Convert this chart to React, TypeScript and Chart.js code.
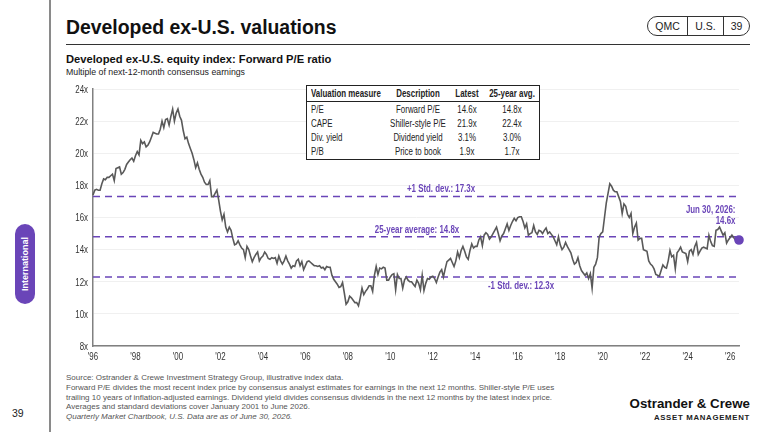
import React, { useEffect, useRef } from "react";
import { Chart, registerables } from "chart.js";

Chart.register(...registerables);

const SANS = '"Liberation Sans", Arial, sans-serif';
const PURPLE = "#6a45b8";
const NARROW = 0.79; // no narrow face installed, so text gets squeezed

const startYear = 1996;

// monthly forward P/E, Jan 1996 to Jun 2026
const forwardPE = [
  17.4, 17.7, 17.75, 17.7, 17.7, 18.1, 18.4, 18.35, 18.5, 18.5, 18.6, 18.7,
  18.3, 19.05, 19.1, 19.15, 18.7, 18.8, 19.0, 19.3, 19.45, 19.6, 19.7, 19.5,
  19.85, 20.1, 19.9, 20.8, 20.6, 20.7, 20.4, 20.5, 20.7, 21.0, 21.3, 21.25,
  21.2, 21.2, 21.5, 22.0, 21.6, 22.1, 22.15, 21.75, 22.3, 22.75, 22.0, 22.5,
  22.75, 22.3, 22.05, 21.4, 20.9, 21.0, 20.6, 20.3, 20.0, 19.6, 19.1, 19.4,
  19.0, 18.7, 18.5, 18.2, 18.05, 18.05, 18.3, 17.3, 17.3, 17.5, 17.7, 17.1,
  16.4, 15.85, 16.2, 15.4, 15.1, 15.4, 15.2, 14.7, 14.3, 14.35, 14.55, 14.3,
  14.1, 14.0, 13.5, 14.2, 14.0, 13.6, 13.25, 13.5, 13.7, 13.85, 13.3, 13.5,
  13.6, 13.85, 13.7, 13.45, 13.4, 13.5, 13.45, 13.5, 13.15, 13.6, 13.3, 13.1,
  13.3, 13.6, 13.3, 13.1, 12.85, 13.0, 12.95, 13.3, 13.4, 13.0, 13.25, 12.75,
  13.0, 13.25, 13.3, 13.2, 13.1, 13.0, 13.0, 12.95, 13.0, 12.85, 12.9, 12.75,
  12.95, 12.9, 12.9, 12.4, 12.15, 12.0, 11.85, 11.65, 11.7, 11.95, 11.3, 10.6,
  10.75, 11.1, 11.0, 10.85, 10.7, 10.7, 10.5, 11.0, 11.6, 11.2, 11.4, 11.55,
  11.75, 11.75, 11.4, 12.4, 12.95, 12.45, 12.85, 12.8, 12.9, 12.85, 12.1, 12.1,
  12.3, 12.45, 12.5, 11.5, 12.45, 12.2, 12.2, 11.6, 12.1, 12.3, 12.1, 12.0,
  12.0, 11.85, 11.7, 12.1, 11.9, 11.5, 12.4, 11.45, 11.9, 12.2, 12.15, 12.3,
  12.35, 12.2, 11.95, 12.3, 12.6, 12.75, 12.3, 12.8, 13.25, 13.35, 13.45, 13.2,
  12.95, 13.3, 13.85, 13.5, 13.95, 14.2, 13.9, 13.55, 13.4, 13.95, 14.35, 14.1,
  14.2, 14.2, 14.6, 14.8, 14.25, 14.9, 15.05, 14.95, 14.65, 14.8, 15.0, 15.2,
  15.4, 15.0, 14.55, 14.85, 15.0, 15.3, 15.6, 15.2, 15.5, 15.75, 15.95, 15.8,
  16.0, 16.05, 16.05, 15.75, 15.35, 15.6, 14.9, 15.0, 15.05, 15.5, 15.1, 14.95,
  15.2, 15.15, 15.0, 15.2, 15.35, 15.0, 15.1, 14.95, 14.8, 14.55, 14.3, 14.8,
  14.3, 14.0, 14.15, 14.45, 14.2, 14.0, 13.8, 13.4, 13.1, 13.2, 13.5, 13.0,
  12.7, 12.55, 12.4, 12.55, 12.2, 12.5, 11.6, 12.9, 13.1, 13.5, 14.8, 15.0,
  15.1, 16.0, 16.9, 17.5, 18.1, 17.95, 17.7, 17.6, 17.6, 17.3, 17.0, 16.25,
  16.85, 16.7, 16.2, 16.0, 16.25, 15.0, 15.4, 15.65, 14.6, 14.7, 14.7, 14.0,
  13.95, 13.9, 13.3, 13.1, 13.0, 12.8, 12.45, 12.4, 12.35, 12.7, 13.05, 12.9,
  12.85, 13.3, 13.95, 13.55, 13.65, 12.8, 13.8, 13.95, 14.15, 13.85, 13.8, 13.75,
  13.25, 13.9, 14.0, 13.7, 14.2, 14.45, 13.7, 13.9, 14.1, 14.15, 14.1, 14.05,
  14.9, 14.5, 14.25, 14.2, 15.2, 15.25, 15.4, 15.15, 14.9, 15.05, 14.4, 14.6,
  14.75, 14.9, 14.75, 14.6, 14.7, 14.6,
];

const average = 14.8;
const plusOneStd = 17.3;
const minusOneStd = 12.3;

const tableHead = ["Valuation measure", "Description", "Latest", "25-year avg."];
const measures = ["P/E", "CAPE", "Div. yield", "P/B"];
const descriptions = ["Forward P/E", "Shiller-style P/E", "Dividend yield", "Price to book"];
const latest = ["14.6x", "21.9x", "3.1%", "1.9x"];
const avg25 = ["14.8x", "22.4x", "3.0%", "1.7x"];

const footnotes = [
  "Source: Ostrander & Crewe Investment Strategy Group, illustrative index data.",
  "Forward P/E divides the most recent index price by consensus analyst estimates for earnings in the next 12 months. Shiller-style P/E uses",
  "trailing 10 years of inflation-adjusted earnings. Dividend yield divides consensus dividends in the next 12 months by the latest index price.",
  "Averages and standard deviations cover January 2001 to June 2026.",
];

// month index -> "'96" on January of even years, blank otherwise
const monthLabels = forwardPE.map((_, i) => {
  const year = startYear + Math.floor(i / 12);
  return i % 12 === 0 && year % 2 === 0 ? "'" + String(year).slice(2) : "";
});

const abs = (left: number, top: number, extra: React.CSSProperties = {}): React.CSSProperties => ({
  position: "absolute",
  left,
  top,
  whiteSpace: "nowrap",
  ...extra,
});

const squeezed = (ctx: CanvasRenderingContext2D, text: string, x: number, y: number, align: CanvasTextAlign) => {
  ctx.save();
  ctx.translate(x, y + 1);
  ctx.scale(NARROW, 1);
  ctx.textAlign = align;
  ctx.textBaseline = "middle";
  ctx.fillText(text, 0, 0);
  ctx.restore();
};

// tick labels and line notes, placed from the chart's scales
const narrowText = {
  id: "narrowText",
  afterDatasetsDraw(chart: any) {
    const { ctx, scales } = chart;
    const x = scales.x;
    const y = scales.y;
    const lastX = x.getPixelForValue(forwardPE.length - 1);
    const lastY = y.getPixelForValue(forwardPE[forwardPE.length - 1]);

    ctx.save();
    ctx.fillStyle = "#333";
    ctx.font = `10px ${SANS}`;
    y.ticks.forEach((t: any, i: number) => squeezed(ctx, t.label, x.left - 5, y.getPixelForTick(i), "right"));
    x.ticks.forEach((t: any, i: number) => {
      if (t.label) squeezed(ctx, t.label, x.getPixelForTick(i), y.bottom + 10, "center");
    });

    ctx.fillStyle = PURPLE;
    ctx.font = `bold 10px ${SANS}`;
    squeezed(ctx, "+1 Std. dev.: 17.3x", x.left + 348, y.getPixelForValue(plusOneStd) - 8, "center");
    squeezed(ctx, "25-year average: 14.8x", x.left + 324, y.getPixelForValue(average) - 7.5, "center");
    squeezed(ctx, "-1 Std. dev.: 12.3x", x.left + 428, y.getPixelForValue(minusOneStd) + 8.5, "center");
    squeezed(ctx, "Jun 30, 2026:", lastX - 3.5, lastY - 31, "right");
    squeezed(ctx, "14.6x", lastX - 3.5, lastY - 20, "right");
    ctx.restore();
  },
};

const refLine = (label: string, value: number) => ({
  label,
  data: forwardPE.map(() => value),
  borderColor: PURPLE,
  borderWidth: 1.5,
  borderDash: [7, 5],
  pointRadius: 0,
  order: 2,
});

const colCenters = [0, 418, 467, 511.5];

export default function App() {
  const chartRef = useRef<HTMLCanvasElement>(null);

  useEffect(() => {
    if (!chartRef.current) return;
    const last = forwardPE.length - 1;
    const chart = new Chart(chartRef.current, {
      type: "line",
      data: {
        labels: monthLabels,
        datasets: [
          {
            label: "Forward P/E",
            data: forwardPE,
            borderColor: "#595959",
            borderWidth: 1.6,
            tension: 0,
            pointRadius: (c: any) => (c.dataIndex === last ? 4 : 0),
            pointBackgroundColor: PURPLE,
            pointBorderColor: PURPLE,
            clip: false,
            order: 1,
          },
          refLine("+1 Std. dev.", plusOneStd),
          refLine("25-year average", average),
          refLine("-1 Std. dev.", minusOneStd),
        ],
      },
      options: {
        animation: false,
        responsive: false,
        layout: { padding: { top: 9, right: 21, left: 0, bottom: 0 } },
        plugins: { legend: { display: false }, tooltip: { enabled: false } },
        scales: {
          x: {
            offset: false,
            grid: { display: false },
            border: { color: "#808080", width: 1.5 },
            afterFit: (s: any) => {
              s.height = 24;
            },
            ticks: {
              display: false,
              autoSkip: false,
              maxRotation: 0,
              callback: (_v: any, i: number) => monthLabels[i],
            },
          },
          y: {
            min: 8,
            max: 24,
            grid: { color: "#f0f0f0", lineWidth: 1, drawTicks: false },
            border: { color: "#808080", width: 1.5 },
            afterFit: (s: any) => {
              s.width = 43;
            },
            ticks: {
              display: false,
              stepSize: 2,
              callback: (v: any) => `${v}x`,
            },
          },
        },
      },
      plugins: [narrowText],
    });
    return () => chart.destroy();
  }, []);

  const tableCell = (col: number, center: number, text: string, bold = false) => (
    <div
      key={col + text}
      style={abs(col === 0 ? 311 : colCenters[col], center - 7, {
        lineHeight: "14px",
        fontSize: 10,
        fontWeight: bold ? 700 : 400,
        color: "#222",
        transformOrigin: col === 0 ? "left center" : "center",
        transform: col === 0 ? `scaleX(${NARROW})` : `translateX(-50%) scaleX(${NARROW})`,
      })}
    >
      {text}
    </div>
  );

  return (
    <div style={abs(0, 0, { width: 768, height: 432, background: "#fff", overflow: "hidden", fontFamily: SANS, color: "#111" })}>
      <div style={abs(49, 0, { width: 1.5, height: 432, background: "#8a8a8a" })} />
      <div style={abs(66, 13, { fontSize: 19.4, fontWeight: 700, lineHeight: "28px" })}>Developed ex-U.S. valuations</div>
      <div style={abs(66, 44, { width: 684, height: 1, background: "#333" })} />

      <div style={abs(647, 16, { width: 103, height: 20, boxSizing: "border-box", border: "1px solid #333", borderRadius: 10, fontSize: 10.5, lineHeight: "18px", display: "flex", textAlign: "center", color: "#222" })}>
        <div style={{ width: 39, borderRight: "1px solid #333" }}>QMC</div>
        <div style={{ width: 35, borderRight: "1px solid #333" }}>U.S.</div>
        <div style={{ flex: 1 }}>39</div>
      </div>

      <div style={abs(66, 52, { fontSize: 11.2, fontWeight: 700, lineHeight: "15px" })}>Developed ex-U.S. equity index: Forward P/E ratio</div>
      <div style={abs(66, 66, { fontSize: 8.75, lineHeight: "12px", color: "#222" })}>Multiple of next-12-month consensus earnings</div>

      <canvas ref={chartRef} width={710} height={290} style={abs(50, 80, { display: "block" })} />

      <div style={abs(306, 85, { width: 234, height: 75, boxSizing: "border-box", border: "1px solid #222", background: "#fff" })} />
      <div style={abs(306, 101, { width: 234, height: 1, background: "#222" })} />
      {tableHead.map((h, c) => tableCell(c, 93.5, h, true))}
      {measures.map((m, i) => {
        const cy = 110.3 + i * 14;
        return (
          <React.Fragment key={m}>
            {tableCell(0, cy, m)}
            {tableCell(1, cy, descriptions[i])}
            {tableCell(2, cy, latest[i])}
            {tableCell(3, cy, avg25[i])}
          </React.Fragment>
        );
      })}

      <div style={abs(15, 224, { width: 19.5, height: 80, borderRadius: 10, background: PURPLE })} />
      <div style={abs(24.7, 264, { color: "#fff", fontSize: 9, fontWeight: 700, transform: "translate(-50%, -50%) rotate(-90deg)" })}>International</div>
      <div style={abs(12, 406, { fontSize: 10.5, lineHeight: "14px", color: "#222" })}>39</div>

      {footnotes.map((t, i) => (
        <div key={i} style={abs(66, 373 + i * 9.75, { fontSize: 8, lineHeight: "10px", color: "#555" })}>{t}</div>
      ))}
      <div style={abs(66, 412, { fontSize: 8, lineHeight: "10px", color: "#555", fontStyle: "italic" })}>Quarterly Market Chartbook, U.S. Data are as of June 30, 2026.</div>

      <div style={abs(600, 395, { width: 150, textAlign: "right", fontSize: 13.3, fontWeight: 700, lineHeight: "17px" })}>Ostrander &amp; Crewe</div>
      <div style={abs(600, 413, { width: 150, textAlign: "right", fontSize: 7.8, fontWeight: 700, lineHeight: "10px", letterSpacing: 0.7, color: "#222" })}>ASSET MANAGEMENT</div>
    </div>
  );
}
